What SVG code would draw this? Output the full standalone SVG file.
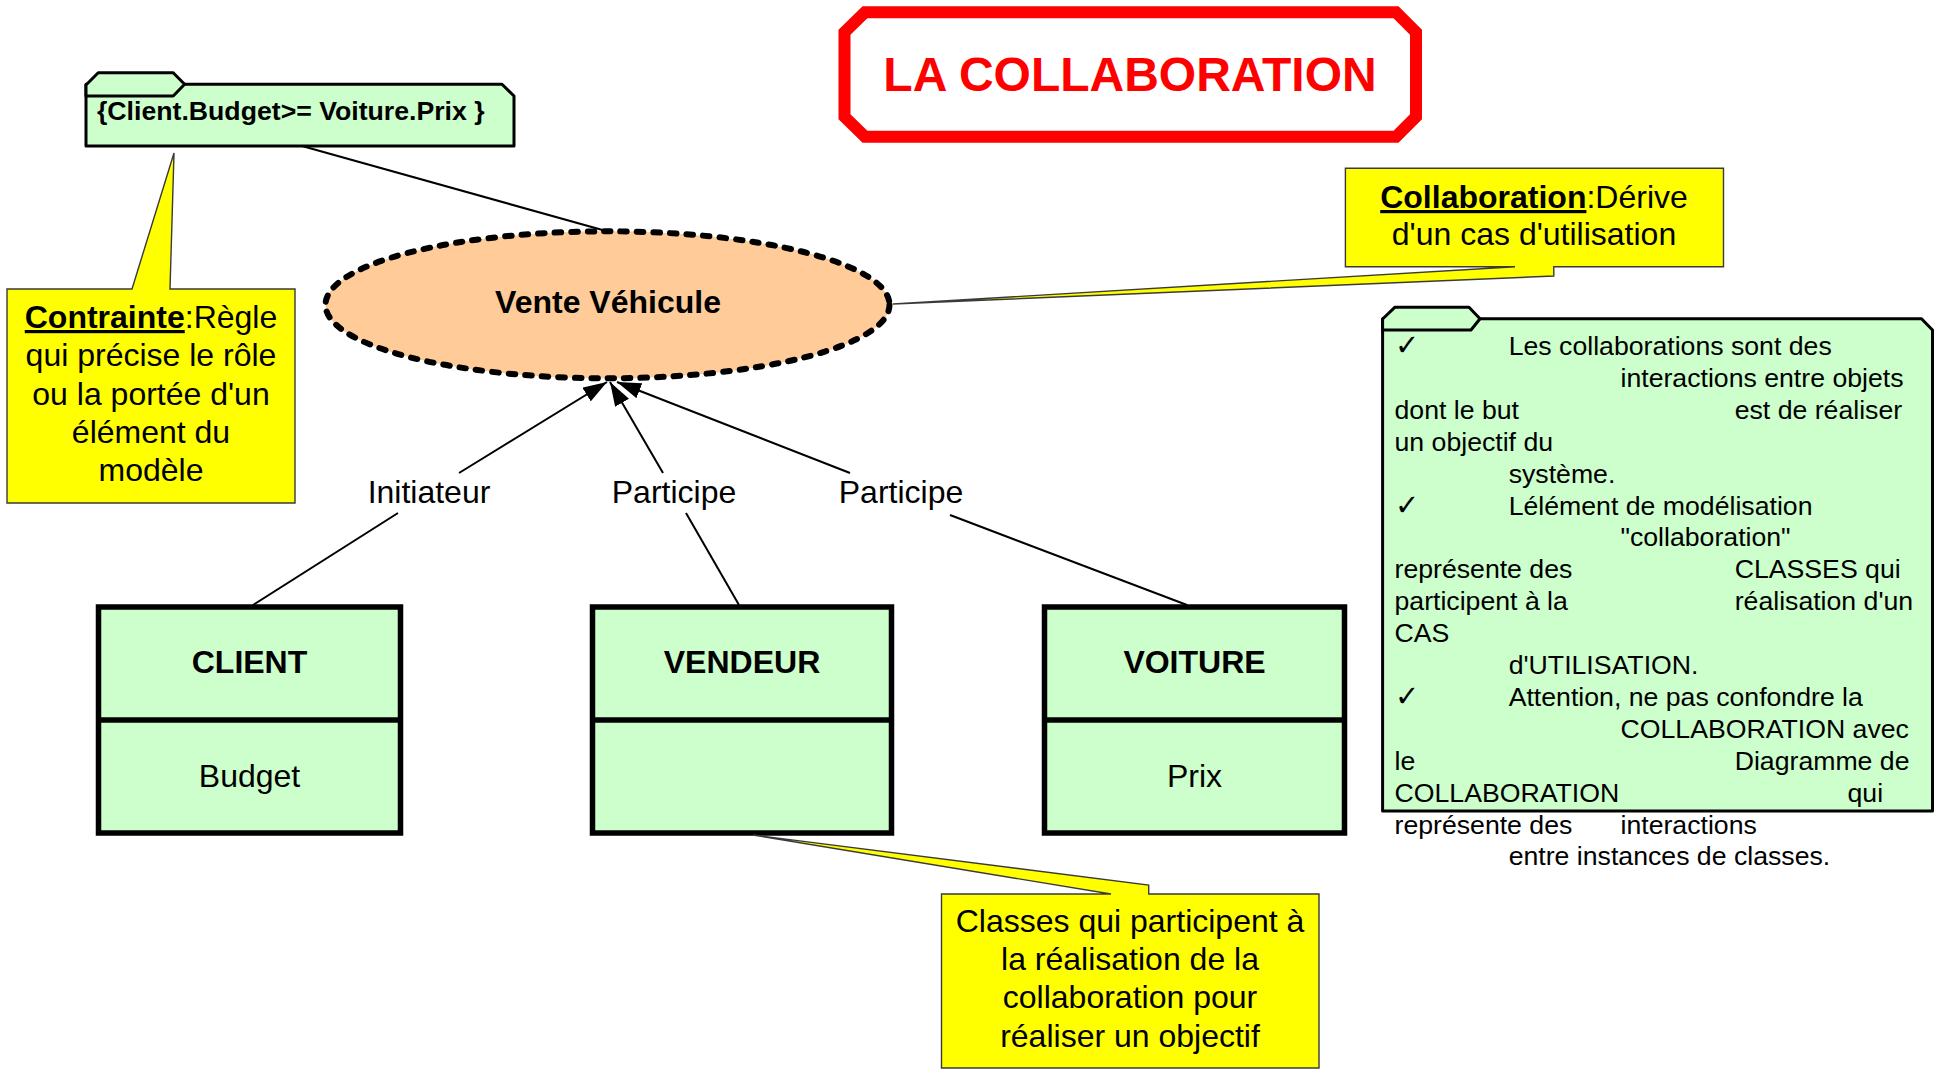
<svg xmlns="http://www.w3.org/2000/svg" width="1935" height="1069" viewBox="0 0 1935 1069">
<defs>
<style>
text{font-family:"Liberation Sans",Arial,sans-serif;fill:#000}
.t32{font-size:32px}
.b{font-weight:bold}
.c{text-anchor:middle}
.note{fill:#FFFF00;stroke:#3a3a3a;stroke-width:1.4}
.pkg{fill:#CCFFCC;stroke:#000;stroke-width:3;stroke-linejoin:round}
.cls{fill:#CCFFCC;stroke:#000;stroke-width:5.5}
.conn{stroke:#000;stroke-width:2;fill:none}
.info{font-size:26.67px}
.chk{font-family:"DejaVu Sans",sans-serif;font-size:29px}
</style>
<marker id="arr" viewBox="0 0 24 16" refX="24" refY="8" markerWidth="24" markerHeight="16" markerUnits="userSpaceOnUse" orient="auto">
<path d="M0,0 L24,8 L0,16 z" fill="#000"/>
</marker>
</defs>
<rect width="1935" height="1069" fill="#fff"/>

<g id="title">
<polygon points="865,12.2 1396,12.2 1416,32.2 1416,116.8 1396,136.8 865,136.8 844.5,116.8 844.5,32.2" fill="#fff" stroke="#FF0000" stroke-width="12"/>
<text x="1130" y="90.7" class="b c" style="font-size:48px;fill:#FF0000">LA COLLABORATION</text>
</g>

<g id="connectors">
<line class="conn" x1="302" y1="146" x2="606" y2="231"/>
<line class="conn" x1="459" y1="473" x2="607" y2="382" marker-end="url(#arr)"/>
<line class="conn" x1="398" y1="513" x2="253" y2="605"/>
<line class="conn" x1="663" y1="473" x2="610" y2="382" marker-end="url(#arr)"/>
<line class="conn" x1="686" y1="513" x2="739" y2="605"/>
<line class="conn" x1="850" y1="473" x2="617" y2="382" marker-end="url(#arr)"/>
<line class="conn" x1="950" y1="515" x2="1187" y2="605"/>
<text x="429" y="503" class="t32 c">Initiateur</text>
<text x="674" y="503" class="t32 c">Participe</text>
<text x="901" y="503" class="t32 c">Participe</text>
</g>

<g id="constraint-package">
<polygon class="pkg" points="86,84.3 185,84.3 502,84.3 514,96 514,146 86,146"/>
<polygon class="pkg" points="86,96 86,85 98.2,72.7 173.2,72.7 184.6,84.3 173.2,96"/>
<text x="97" y="120" class="b" style="font-size:26.67px">{Client.Budget&gt;= Voiture.Prix }</text>
</g>

<g id="contrainte-note">
<polygon class="note" points="7,289 132,289 174,153 170,289 295,289 295,503 7,503"/>
<text x="151" y="328" class="t32 c"><tspan class="b" text-decoration="underline" style="text-decoration:underline">Contrainte</tspan>:Règle</text>
<text x="151" y="366" class="t32 c">qui précise le rôle</text>
<text x="151" y="405" class="t32 c">ou la portée d'un</text>
<text x="151" y="443" class="t32 c">élément du</text>
<text x="151" y="481" class="t32 c">modèle</text>
</g>

<g id="usecase">
<ellipse cx="607.5" cy="304.8" rx="282" ry="73.5" fill="#FFCC99" stroke="#000" stroke-width="6" stroke-dasharray="6.5 10" stroke-linecap="round"/>
<text x="608" y="313" class="t32 b c">Vente Véhicule</text>
</g>

<g id="collaboration-note">
<polygon class="note" points="1345.4,168.3 1723.5,168.3 1723.5,266.7 1553.8,266.7 1553.8,276 893,304 1515,266.7 1345.4,266.7"/>
<text x="1534" y="208" class="t32 c"><tspan class="b" text-decoration="underline" style="text-decoration:underline">Collaboration</tspan>:Dérive</text>
<text x="1534" y="245" class="t32 c">d'un cas d'utilisation</text>
</g>

<g id="info-package">
<polygon class="pkg" points="1382.6,318.7 1480,318.7 1921.5,318.7 1932.5,330 1932.5,811 1382.6,811"/>
<polygon class="pkg" points="1382.6,330 1382.6,319 1395,307.2 1469,307.2 1480,318.7 1471,330"/>
<g class="info">
<text x="1395" y="355" class="chk">✓</text>
<text x="1508.7" y="355">Les collaborations sont des</text>
<text x="1620.5" y="386.9">interactions entre objets</text>
<text x="1394.5" y="418.8">dont le but</text>
<text x="1734.7" y="418.8">est de réaliser</text>
<text x="1394.5" y="450.7">un objectif du</text>
<text x="1508.7" y="482.6">système.</text>
<text x="1395" y="514.5" class="chk">✓</text>
<text x="1508.7" y="514.5">Lélément de modélisation</text>
<text x="1620.5" y="546.4">"collaboration"</text>
<text x="1394.5" y="578.3">représente des</text>
<text x="1734.7" y="578.3">CLASSES qui</text>
<text x="1394.5" y="610.2">participent à la</text>
<text x="1734.7" y="610.2">réalisation d'un</text>
<text x="1394.5" y="642.1">CAS</text>
<text x="1508.7" y="674">d'UTILISATION.</text>
<text x="1395" y="706" class="chk">✓</text>
<text x="1508.7" y="705.9">Attention, ne pas confondre la</text>
<text x="1620.5" y="737.8">COLLABORATION avec</text>
<text x="1394.5" y="769.7">le</text>
<text x="1734.7" y="769.7">Diagramme de</text>
<text x="1394.5" y="801.6">COLLABORATION</text>
<text x="1847.5" y="801.6">qui</text>
<text x="1394.5" y="833.5">représente des</text>
<text x="1620.5" y="833.5">interactions</text>
<text x="1508.7" y="865.4">entre instances de classes.</text>
</g>
</g>

<g id="client">
<rect class="cls" x="98.5" y="607" width="302" height="226"/>
<line x1="98.5" y1="720" x2="400.5" y2="720" stroke="#000" stroke-width="5.5"/>
<text x="249.5" y="672.7" class="t32 b c">CLIENT</text>
<text x="249.5" y="786.7" class="t32 c">Budget</text>
</g>

<g id="vendeur">
<rect class="cls" x="592.5" y="607" width="299" height="226"/>
<line x1="592.5" y1="720" x2="891.5" y2="720" stroke="#000" stroke-width="5.5"/>
<text x="742" y="672.7" class="t32 b c">VENDEUR</text>
</g>

<g id="voiture">
<rect class="cls" x="1044.5" y="607" width="300" height="226"/>
<line x1="1044.5" y1="720" x2="1344.5" y2="720" stroke="#000" stroke-width="5.5"/>
<text x="1194.5" y="672.7" class="t32 b c">VOITURE</text>
<text x="1194.5" y="786.7" class="t32 c">Prix</text>
</g>

<g id="classes-note">
<polygon class="note" points="941.5,894 1111,894 753,835 1148.7,885 1148.7,894 1319,894 1319,1068 941.5,1068"/>
<text x="1130" y="931.7" class="t32 c">Classes qui participent à</text>
<text x="1130" y="970" class="t32 c">la réalisation de la</text>
<text x="1130" y="1008.3" class="t32 c">collaboration pour</text>
<text x="1130" y="1046.7" class="t32 c">réaliser un objectif</text>
</g>
</svg>
